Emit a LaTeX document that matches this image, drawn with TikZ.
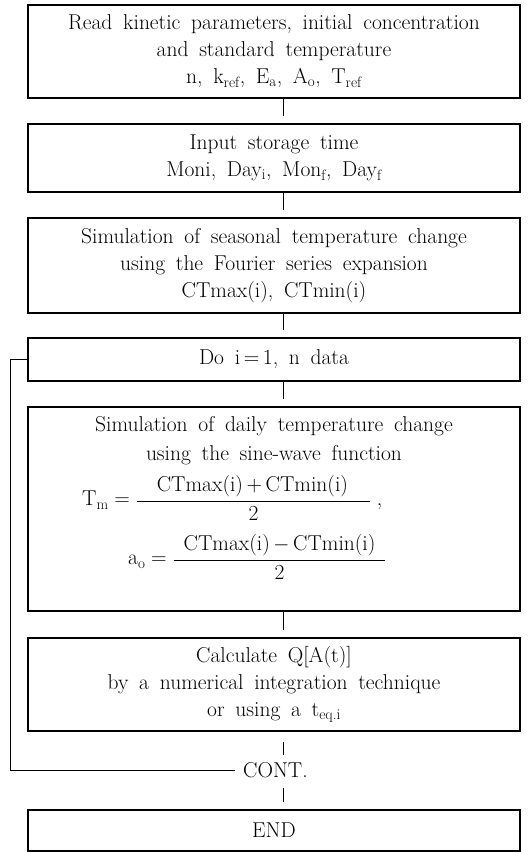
\documentclass[tikz,border=0pt]{standalone}
\usepackage{fontspec}
\newcommand{\myfnt}{\fontsize{21.5}{27}\selectfont\spaceskip=0.5em plus 0.1em\relax}
\newcommand{\myfntb}{\fontsize{21.5}{29}\selectfont\spaceskip=0.5em plus 0.1em\relax}
\begin{document}
\begin{tikzpicture}[x=1pt,y=-1pt,
  box/.style={draw, line width=1.1pt, minimum width=492pt, align=center, inner sep=0pt},
  link/.style={line width=0.7pt, shorten >=7pt},
  loopline/.style={line width=0.7pt},
  txt/.style={inner sep=0pt, align=center}]
\useasboundingbox (0,0) rectangle (531,852);
\tikzset{every node/.style={font=\myfnt}}
\coordinate (spine) at (283,0);
\node[box, minimum height=93pt] (b1) at (274,51.5)
  {Read kinetic parameters, initial concentration\\
   and standard temperature\\
   n, k\textsubscript{ref}, E\textsubscript{a}, A\textsubscript{o}, T\textsubscript{ref}};
\node[box, minimum height=68pt] (b2) at (274,158)
  {Input storage time\\
   Moni, Day\textsubscript{i}, Mon\textsubscript{f}, Day\textsubscript{f}};
\node[box, minimum height=95pt] (b3) at (274,265.5)
  {Simulation of seasonal temperature change\\
   using the Fourier series expansion\\
   CTmax(i), CTmin(i)};
\node[box, minimum height=43pt] (b4) at (274,359.5)
  {Do i\,=\,1, n data};
\node[box, minimum height=204pt] (b5) at (274,509) {};
\node[txt, font=\myfntb] (b5t) at (274,441)
  {Simulation of daily temperature change\\
   using the sine-wave function};
\node[txt, anchor=west] (f1) at (82,498)
  {$\displaystyle \hbox{T\textsubscript{m}}\mathrel{\hbox{=}}\frac{\hspace{20pt}\hbox{CTmax(i)\,+\,CTmin(i)}\hspace{22pt}}{\hbox{2}}\;\hbox{,}$};
\node[txt, anchor=west] (f2) at (128,557)
  {$\displaystyle \hbox{a\textsubscript{o}}\mathrel{\hbox{=}}\frac{\hspace{10pt}\hbox{CTmax(i)\,$-$\,CTmin(i)}\hspace{10pt}}{\hbox{2}}$};
\node[box, minimum height=93pt] (b6) at (274,684.5)
  {Calculate Q[A(t)]\\
   by a numerical integration technique\\
   or using a t\textsubscript{eq.i}};
\node[txt, anchor=west] (cont) at (243,770) {CONT.};
\node[box, minimum height=41pt] (end) at (274,830.5) {END};
\draw[link] (b1.south -| spine) -- (b2.north -| spine);
\draw[link] (b2.south -| spine) -- (b3.north -| spine);
\draw[link] (b3.south -| spine) -- (b4.north -| spine);
\draw[link] (b4.south -| spine) -- (b5.north -| spine);
\draw[link] (b5.south -| spine) -- (b6.north -| spine);
\draw[link] ([yshift=-10pt]b6.south -| spine) -- (cont.north -| spine);
\draw[link] ([yshift=-10pt]cont.south -| spine) -- (end.north -| spine);
\draw[loopline] (b4.west) -- ++(-17,0) |- ([xshift=-8pt]cont.west);
\end{tikzpicture}
\end{document}
